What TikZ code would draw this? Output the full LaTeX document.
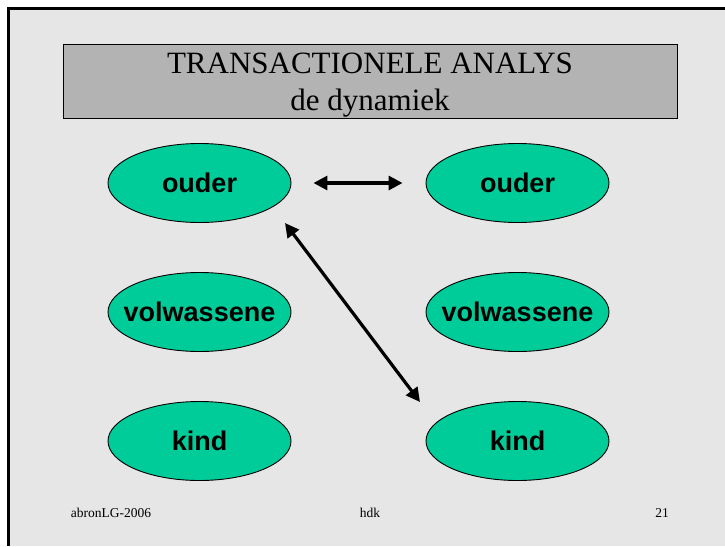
\documentclass[tikz,border=0pt]{standalone}
\usepackage{fontspec}
\setmainfont{Liberation Serif}
\newfontfamily\labelfont{Liberation Sans}
\usetikzlibrary{shapes.geometric,arrows.meta}
\definecolor{slidebg}{HTML}{E6E6E6}
\definecolor{titlegray}{HTML}{B3B3B3}
\definecolor{egostate}{HTML}{00CC99}
\newcommand{\egotext}[1]{\makebox[0pt]{#1}}
\tikzset{
  ego/.style={ellipse, draw=black, line width=0.9pt, fill=egostate,
    minimum width=183pt, minimum height=79pt, inner sep=0pt,
    font=\labelfont\bfseries\fontsize{27}{27}\selectfont},
  transaction/.style={line width=3.2pt,
    {Triangle[length=14pt,width=14pt]}-{Triangle[length=14pt,width=14pt]}},
  footer/.style={anchor=base, font=\fontsize{13.5}{13.5}\selectfont}
}
\begin{document}
\begin{tikzpicture}[x=1pt,y=-1pt]
  \useasboundingbox (0,0) rectangle (725,546);
  % slide background and frame
  \fill[white] (0,0) rectangle (725,546);
  \fill[slidebg] (8,8) rectangle (725,546);
  \draw[line width=3pt] (8,546) -- (8,8) -- (725,8);
  % title box
  \node[draw=black, line width=1.3pt, fill=titlegray, minimum width=614pt,
    minimum height=74pt, inner sep=0pt, anchor=north west] (titlebox) at (63,44) {};
  \node[anchor=base, font=\fontsize{31}{31}\selectfont] (title) at (370,73) {TRANSACTIONELE ANALYS};
  \node[anchor=base, font=\fontsize{31}{31}\selectfont] (subtitle) at (370,110) {de dynamiek};
  % ego states
  \node[ego] (oL) at (199.5,183) {\egotext{ouder}};
  \node[ego] (vL) at (199.5,312) {\egotext{volwassene}};
  \node[ego] (kL) at (199.5,441) {\egotext{kind}};
  \node[ego] (oR) at (517.5,183) {\egotext{ouder}};
  \node[ego] (vR) at (517.5,312) {\egotext{volwassene}};
  \node[ego] (kR) at (517.5,441) {\egotext{kind}};
  % transactions
  \draw[transaction, shorten <=22pt, shorten >=23pt] (oL.east) -- (oR.west);
  \coordinate (crossA) at (285,223);
  \coordinate (crossB) at (420,402);
  \draw[transaction] (crossA) -- (crossB);
  % footer
  \node[footer] (fl) at (111,517) {abronLG-2006};
  \node[footer] (fm) at (370,517) {hdk};
  \node[footer] (fr) at (662,517) {21};
\end{tikzpicture}
\end{document}
